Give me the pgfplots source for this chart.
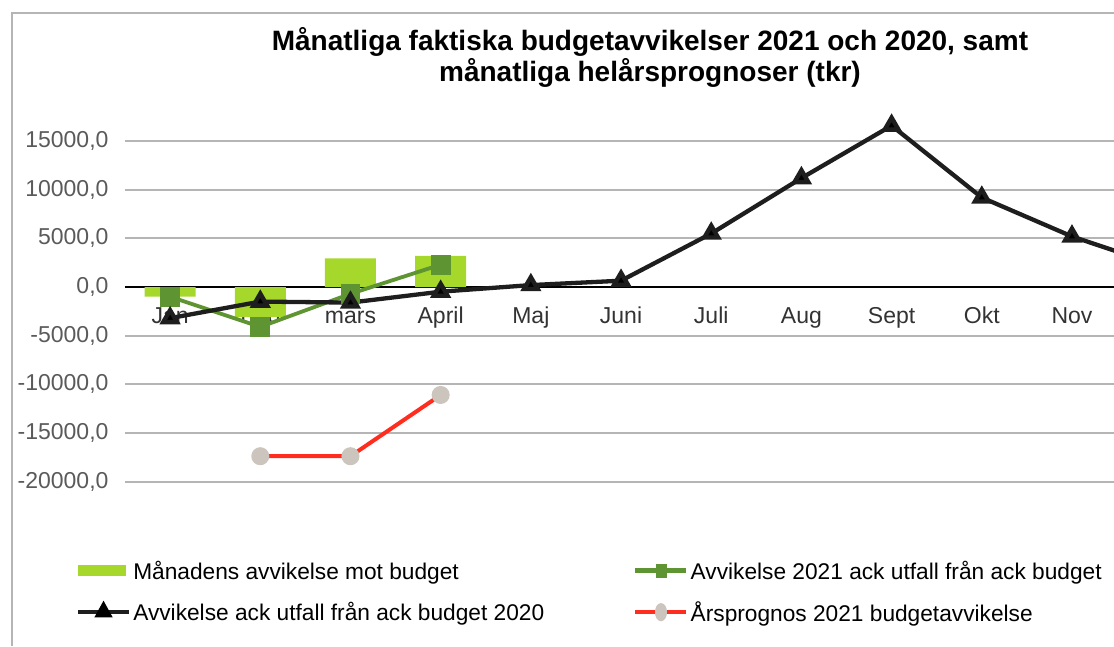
\documentclass[border=0pt]{standalone}
\usepackage{fontspec}
\setmainfont{Liberation Sans}
\usepackage{pgfplots}
\pgfplotsset{compat=1.18}
\definecolor{barg}{HTML}{A6D72B}
\definecolor{lineg}{HTML}{5F9433}
\definecolor{blk}{HTML}{1E1E1E}
\definecolor{redl}{HTML}{FF2D1F}
\definecolor{circ}{HTML}{CBC5BE}
\definecolor{gridc}{HTML}{B5B5B5}
\definecolor{ytc}{HTML}{5A5A5A}
\begin{document}
\begin{tikzpicture}
\useasboundingbox (0,0) rectangle (1114pt,646pt);
\draw[gridc, line width=2pt] (12pt,0) -- (12pt,633pt) -- (1114pt,633pt);
\node[font=\fontsize{28}{31}\selectfont\bfseries, align=center] at (650pt,589pt) {Månatliga faktiska budgetavvikelser 2021 och 2020, samt\\månatliga helårsprognoser (tkr)};
\begin{axis}[
  at={(125pt,164.5pt)}, anchor=south west,
  scale only axis, width=989pt, height=369.5pt,
  xmin=-0.5, xmax=10.466, ymin=-20000, ymax=18000,
  axis x line=middle, axis y line=left,
  hide obscured x ticks=false, hide obscured y ticks=false,
  x axis line style={-, black, line width=1.8pt},
  y axis line style={draw=none},
  xtick={0,...,11},
  xticklabels={Jan,Feb,mars,April,Maj,Juni,Juli,Aug,Sept,Okt,Nov,Dec},
  ytick={-20000,-15000,...,15000},
  scaled y ticks=false,
  major tick length=0pt,
  ymajorgrids, grid style={gridc, line width=2pt},
  tick label style={font=\fontsize{23}{23}\selectfont},
  y tick label style={ytc, xshift=-13pt},
  x tick label style={text=black!80, yshift=-16pt, text height=17pt, text depth=5pt},
  /pgf/number format/fixed, /pgf/number format/fixed zerofill,
  /pgf/number format/precision=1, /pgf/number format/use comma,
  /pgf/number format/1000 sep={}, /pgf/number format/assume math mode=true,
  legend columns=2,
  legend cell align=left,
  legend style={draw=none, fill=none, font=\fontsize{22.7}{25}\selectfont,
    at={(-0.053,-0.203)}, anchor=north west,
    /tikz/column 2/.style={column sep=87pt}, row sep=17pt},
]
\addplot[ybar, bar width=51pt, fill=barg, draw=none,
  legend image code/.code={\fill[barg] (0pt,-5.5pt) rectangle (48pt,5.5pt);}]
  coordinates {(0,-1000) (1,-3100) (2,2950) (3,3200)};
\addlegendentry{Månadens avvikelse mot budget}
\addplot[lineg, line width=3.8pt, mark=square*, mark size=8pt, mark options={solid, fill=lineg, draw=none},
  legend image code/.code={\draw[lineg, line width=4.5pt] (0pt,0pt) -- (51pt,0pt); \fill[lineg] (22pt,-5pt) rectangle (30pt,5pt);}]
  coordinates {(0,-1000) (1,-4100) (2,-700) (3,2300)};
\addlegendentry{Avvikelse 2021 ack utfall från ack budget}
\addplot[blk, line width=4.3pt, mark=triangle*, mark size=8pt, mark options={solid, fill=black, draw=none},
  legend image code/.code={\draw[blk, line width=4.5pt] (0pt,0pt) -- (51pt,0pt); \fill[black] (20pt,-3pt) -- (31pt,-3pt) -- (25.5pt,7pt) -- cycle;}]
  coordinates {(0,-3200) (1,-1500) (2,-1600) (3,-480) (4,200) (5,650) (6,5500) (7,11200) (8,16600) (9,9200) (10,5200) (11,2100)};
\addlegendentry{Avvikelse ack utfall från ack budget 2020}
\addplot[redl, line width=4pt, mark=*, mark size=7.5pt, mark options={solid, fill=circ, draw=circ, line width=3pt},
  legend image code/.code={\draw[redl, line width=4.5pt] (0pt,0pt) -- (51pt,0pt); \fill[circ] (25.5pt,0pt) ellipse (4pt and 7pt);}]
  coordinates {(1,-17400) (2,-17400) (3,-11100)};
\addlegendentry{Årsprognos 2021 budgetavvikelse}
\end{axis}
\end{tikzpicture}
\end{document}
